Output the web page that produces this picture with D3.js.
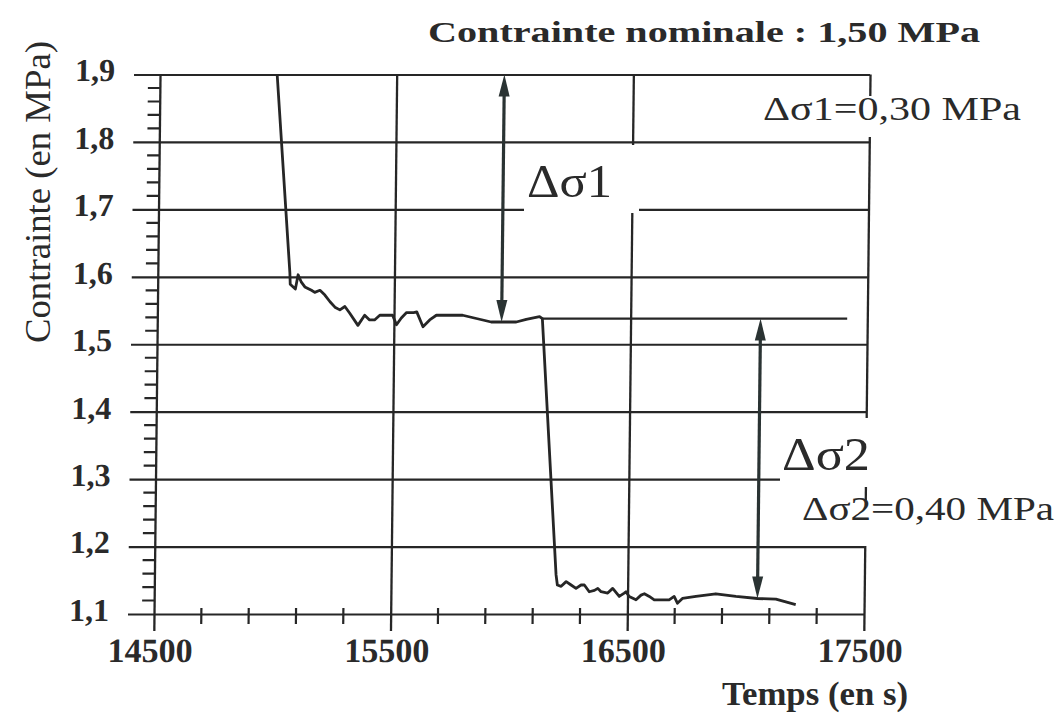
<!DOCTYPE html>
<html>
<head>
<meta charset="utf-8">
<script src="https://cdn.jsdelivr.net/npm/d3@7"></script>
<style>
  body { margin: 0; background: #fff; }
  svg { display: block; }
  text { font-family: "Liberation Serif", "Times New Roman", Tinos, "Nimbus Roman", Times, serif; }
</style>
</head>
<body>
<svg id="chart" width="1061" height="716"></svg>
<script>
// Stress relaxation record: time (s) and stress (MPa)
const timeS = [
  14995, 15058, 15060, 15082, 15093, 15107, 15122, 15150, 15164, 15186,
  15207, 15229, 15250, 15271, 15292, 15313, 15348, 15376, 15397, 15418,
  15440, 15494, 15511, 15531, 15553, 15583, 15596, 15623, 15651, 15679,
  15790, 15911, 16017, 16059, 16115, 16127, 16197, 16203, 16219, 16240,
  16261, 16282, 16303, 16317, 16338, 16360, 16374, 16388, 16416, 16437,
  16465, 16486, 16493, 16507, 16536, 16557, 16571, 16592, 16613, 16676,
  16697, 16711, 16732, 16789, 16873, 16958, 17049, 17127, 17211
];
const stress = [
  1.900, 1.606, 1.589, 1.582, 1.603, 1.592, 1.585, 1.580, 1.577, 1.580,
  1.573, 1.563, 1.555, 1.551, 1.556, 1.546, 1.528, 1.543, 1.536, 1.536,
  1.543, 1.543, 1.529, 1.539, 1.547, 1.547, 1.548, 1.526, 1.536, 1.543,
  1.543, 1.533, 1.533, 1.537, 1.541, 1.538, 1.158, 1.143, 1.141, 1.148,
  1.143, 1.138, 1.143, 1.143, 1.133, 1.135, 1.138, 1.133, 1.131, 1.138,
  1.126, 1.131, 1.133, 1.126, 1.121, 1.128, 1.130, 1.126, 1.121, 1.121,
  1.126, 1.116, 1.123, 1.126, 1.130, 1.126, 1.123, 1.122, 1.114
];

// Axis ticks and labels
const yTicks = [1.1, 1.2, 1.3, 1.4, 1.5, 1.6, 1.7, 1.8, 1.9];
const yTickLabels = ["1,1", "1,2", "1,3", "1,4", "1,5", "1,6", "1,7", "1,8", "1,9"];
const xTicks = [14500, 15500, 16500, 17500];
const xTickLabels = ["14500", "15500", "16500", "17500"];

// Level held after the first drop, extended as a reference
const refLineTime = [16127, 17415];
const refLineStress = 1.538;

// Double arrows marking the two stress steps
const arrowTime = [15955, 17049];
const arrowFrom = [1.9, 1.538];
const arrowTo = [1.533, 1.123];

const ink = "#262626";
const textInk = "#2a2a2a";

const svg = d3.select("#chart");
const x = d3.scaleLinear().domain([14500, 17500]).range([154, 864]);
const y = d3.scaleLinear().domain([1.1, 1.9]).range([614, 74.5]);
const y0 = y(1.1);
const plotW = x(17500) - x(14500);
const skew = `translate(0,${y0}) skewX(-0.64) translate(0,${-y0})`;

// ---- grid and axes ----
const grid = svg.append("g").attr("transform", skew);

const yAxis = d3.axisLeft(y)
  .tickValues(yTicks)
  .tickFormat((d, i) => yTickLabels[i])
  .tickSizeInner(26).tickSizeOuter(0).tickPadding(19);
const gy = grid.append("g").attr("transform", `translate(${x(14500)},0)`).call(yAxis);
gy.attr("font-family", null);
gy.select(".domain").remove();
gy.selectAll(".tick line")
  .attr("x1", plotW).attr("x2", -26)
  .attr("stroke", ink).attr("stroke-width", 2.2);
gy.selectAll(".tick text")
  .attr("dy", "0.2em")
  .attr("fill", textInk)
  .style("font-size", "32px").style("font-weight", "bold");

const xAxis = d3.axisBottom(x)
  .tickValues(xTicks)
  .tickFormat((d, i) => xTickLabels[i])
  .tickSizeInner(17).tickSizeOuter(0).tickPadding(7);
const gx = grid.append("g").attr("transform", `translate(0,${y0})`).call(xAxis);
gx.attr("font-family", null);
gx.select(".domain").remove();
gx.selectAll(".tick line")
  .attr("y1", y(1.9) - y0).attr("y2", 17)
  .attr("stroke", ink).attr("stroke-width", 2.3);
gx.selectAll(".tick text")
  .attr("dx", -4)
  .attr("fill", textInk)
  .style("font-size", "34px").style("font-weight", "bold");

// minor ticks
const yMinor = d3.range(1.12, 1.9, 0.02).filter(v => Math.abs(v * 10 - Math.round(v * 10)) > 0.05);
grid.append("g").selectAll("line").data(yMinor).join("line")
  .attr("x1", x(14500) - 12).attr("x2", x(14500))
  .attr("y1", d => y(d)).attr("y2", d => y(d))
  .attr("stroke", ink).attr("stroke-width", 2.2);

const xMinor = d3.range(14700, 17500, 200).filter(v => v % 1000 !== 500);
grid.append("g").selectAll("line").data(xMinor).join("line")
  .attr("x1", d => x(d)).attr("x2", d => x(d))
  .attr("y1", y0 - 6).attr("y2", y0 + 10)
  .attr("stroke", ink).attr("stroke-width", 2.2);

// white boxes behind the annotations
const boxes = [
  [760, 96, 262, 41],
  [524, 145, 115, 68],
  [780, 418, 100, 69],
  [800, 500, 256, 46]
];
svg.append("g").selectAll("rect").data(boxes).join("rect")
  .attr("x", d => d[0]).attr("y", d => d[1])
  .attr("width", d => d[2]).attr("height", d => d[3])
  .attr("fill", "#fff");

// ---- data ----
const plot = svg.append("g").attr("transform", skew);

plot.append("line")
  .attr("x1", x(refLineTime[0])).attr("x2", x(refLineTime[1]))
  .attr("y1", y(refLineStress)).attr("y2", y(refLineStress))
  .attr("stroke", ink).attr("stroke-width", 2.3);

const line = d3.line().x(d => x(d[0])).y(d => y(d[1]));
plot.append("path")
  .datum(d3.zip(timeS, stress))
  .attr("d", line)
  .attr("fill", "none")
  .attr("stroke", ink)
  .attr("stroke-width", 2.8)
  .attr("stroke-linejoin", "round");

const arrowInk = "#2a3333";
arrowTime.forEach((t, i) => {
  const ax = x(t), ya = y(arrowFrom[i]), yb = y(arrowTo[i]);
  const hl = 22, hw = 5.5;
  plot.append("line")
    .attr("x1", ax).attr("x2", ax)
    .attr("y1", ya + 10).attr("y2", yb - 10)
    .attr("stroke", arrowInk).attr("stroke-width", 3.2);
  plot.append("polygon")
    .attr("points", `${ax},${ya} ${ax - hw},${ya + hl} ${ax + hw},${ya + hl}`)
    .attr("fill", arrowInk);
  plot.append("polygon")
    .attr("points", `${ax},${yb} ${ax - hw},${yb - hl} ${ax + hw},${yb - hl}`)
    .attr("fill", arrowInk);
});

// ---- texts ----
function label(txt, px, py, size, width, bold) {
  return svg.append("text")
    .attr("x", px).attr("y", py)
    .attr("textLength", width).attr("lengthAdjust", "spacingAndGlyphs")
    .attr("fill", textInk)
    .style("font-size", size + "px")
    .style("font-weight", bold ? "bold" : "normal")
    .text(txt);
}

label("Contrainte nominale : 1,50 MPa", 428, 42, 29, 552, true);
label("\u0394\u03c31=0,30 MPa", 763, 120, 33, 258, false);
label("\u0394\u03c31", 527, 197, 46, 85, false);
label("\u0394\u03c32", 782, 470, 46, 88, false);
label("\u0394\u03c32=0,40 MPa", 802, 520, 33, 252, false);
label("Temps (en s)", 722, 705, 34, 186, true);

svg.append("text")
  .attr("transform", "translate(50,192) rotate(-90)")
  .attr("text-anchor", "middle")
  .attr("textLength", 302).attr("lengthAdjust", "spacingAndGlyphs")
  .attr("fill", textInk)
  .style("font-size", "35px")
  .text("Contrainte (en MPa)");
</script>
</body>
</html>
